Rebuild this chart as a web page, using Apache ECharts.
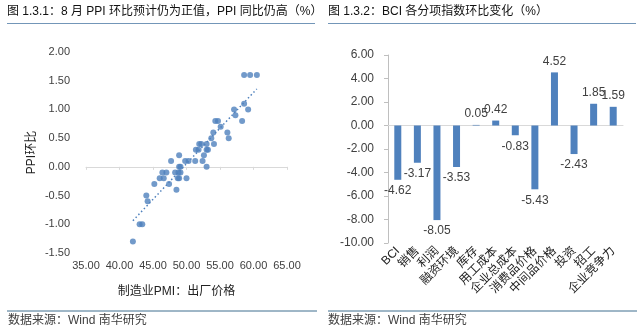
<!DOCTYPE html>
<html>
<head>
<meta charset="utf-8">
<script src="https://cdn.jsdelivr.net/npm/echarts@6/dist/echarts.min.js"></script>
<style>
html,body{margin:0;padding:0;background:#fff;}
#chart{width:640px;height:332px;}
</style>
</head>
<body>
<div id="chart"></div>
<script>
// ---- Left chart: scatter PMI output price vs PPI m/m ----
const pmiOutputPrice = [42.0, 43.0, 43.4, 44.0, 44.2, 45.2, 46.0, 46.6, 46.4, 47.0, 47.4, 47.7, 48.3, 48.8, 49.1, 48.5, 48.7, 48.9, 48.9, 48.9, 49.1, 49.8, 50.3, 50.0, 51.3, 51.4, 51.8, 51.9, 52.2, 52.4, 52.6, 53.0, 53.0, 53.2, 53.0, 53.7, 54.0, 54.1, 54.3, 54.7, 55.1, 56.1, 56.3, 57.1, 57.3, 58.3, 58.6, 59.2, 58.6, 59.5, 60.5];
const ppiMoM = [-1.3, -1.0, -1.0, -0.5, -0.6, -0.3, -0.2, -0.2, -0.1, -0.1, -0.3, 0.1, -0.1, -0.1, -0.1, -0.4, -0.2, -0.2, 0.2, 0.0, 0.0, 0.1, 0.1, -0.2, 0.1, 0.3, 0.3, 0.4, 0.4, 0.1, 0.2, 0.4, 0.3, 0.3, 0.0, 0.5, 0.6, 0.4, 0.8, 0.8, 0.7, 0.6, 0.5, 1.0, 0.9, 0.8, 1.1, 1.0, 1.6, 1.6, 1.6];
const leftXTicks = { min: 35, max: 65, interval: 5 };
const leftYTicks = { min: -1.5, max: 2, interval: 0.5 };

// ---- Right chart: BCI sub-index m/m change ----
const bciCategories = ['BCI', '销售', '利润', '融资环境', '库存', '用工成本', '企业总成本', '消费品价格', '中间品价格', '投资', '招工', '企业竞争力'];
const bciChange = [-4.62, -3.17, -8.05, -3.53, 0.05, 0.42, -0.83, -5.43, 4.52, -2.43, 1.85, 1.59];
const rightYTicks = { min: -10, max: 6, interval: 2 };

const FONT = "'Liberation Sans','Noto Sans CJK SC',sans-serif";
const BLUE = '#4f81bd';

// least-squares trend line from the scatter data
function trend(xs, ys) {
  const n = xs.length;
  let sx = 0, sy = 0, sxx = 0, sxy = 0;
  for (let i = 0; i < n; i++) { sx += xs[i]; sy += ys[i]; sxx += xs[i] * xs[i]; sxy += xs[i] * ys[i]; }
  const b = (n * sxy - sx * sy) / (n * sxx - sx * sx);
  const a = (sy - b * sx) / n;
  const x0 = Math.min(...xs), x1 = Math.max(...xs);
  return [[x0, a + b * x0], [x1, a + b * x1]];
}

const scatterData = pmiOutputPrice.map((x, i) => [x, ppiMoM[i]]);
const barData = bciChange.map(v => ({ value: v, label: { position: v < 0 ? 'bottom' : 'top' } }));
const fmt2 = v => Number(v).toFixed(2);

const chart = echarts.init(document.getElementById('chart'), null, { renderer: 'canvas' });
chart.setOption({
  animation: false,
  textStyle: { fontFamily: FONT },
  title: [
    { text: '图 1.3.1：8 月 PPI 环比预计仍为正值，PPI 同比仍高（%）', left: 7, top: 6, padding: 0,
      textStyle: { fontSize: 12, fontWeight: 'normal', color: '#111', fontFamily: FONT } },
    { text: '图 1.3.2：BCI 各分项指数环比变化（%）', left: 328, top: 6, padding: 0,
      textStyle: { fontSize: 12, fontWeight: 'normal', color: '#111', fontFamily: FONT } },
    { text: '数据来源：Wind 南华研究', left: 8, top: 315, padding: 0,
      textStyle: { fontSize: 12, fontWeight: 'normal', color: '#404040', fontFamily: FONT } },
    { text: '数据来源：Wind 南华研究', left: 328, top: 315, padding: 0,
      textStyle: { fontSize: 12, fontWeight: 'normal', color: '#404040', fontFamily: FONT } }
  ],
  graphic: [
    { type: 'line', shape: { x1: 7, y1: 23.5, x2: 315, y2: 23.5 }, style: { stroke: '#7396b8', lineWidth: 1 } },
    { type: 'line', shape: { x1: 328, y1: 23.5, x2: 636, y2: 23.5 }, style: { stroke: '#7396b8', lineWidth: 1 } },
    { type: 'line', shape: { x1: 7, y1: 311, x2: 317, y2: 311 }, style: { stroke: '#3f6f8f', lineWidth: 1 } },
    { type: 'line', shape: { x1: 328, y1: 311, x2: 637, y2: 311 }, style: { stroke: '#3f6f8f', lineWidth: 1 } }
  ],
  grid: [
    { left: 86, top: 52, width: 201, height: 201 },
    { left: 388, top: 55, width: 235, height: 188 }
  ],
  xAxis: [
    { type: 'value', gridIndex: 0, position: 'bottom', min: leftXTicks.min, max: leftXTicks.max, interval: leftXTicks.interval,
      axisLine: { show: false, onZero: false }, axisTick: { show: false }, splitLine: { show: false },
      axisLabel: { formatter: fmt2, fontSize: 11, color: '#404040', margin: 7 },
      name: '制造业PMI：出厂价格', nameLocation: 'middle', nameGap: 33,
      nameTextStyle: { fontSize: 12, color: '#222', padding: [0, 20, 0, 0] } },
    { type: 'value', gridIndex: 0, position: 'bottom', min: leftXTicks.min, max: leftXTicks.max, interval: leftXTicks.interval,
      axisLine: { show: true, onZero: true, lineStyle: { color: '#d9d9d9', width: 1 } },
      axisTick: { show: true, length: 3, lineStyle: { color: '#d9d9d9' } },
      axisLabel: { show: false }, splitLine: { show: false } },
    { type: 'category', gridIndex: 1, position: 'bottom', data: bciCategories,
      axisLine: { show: false, onZero: false }, axisTick: { show: false }, splitLine: { show: false },
      axisLabel: { interval: 0, rotate: 45, fontSize: 12, color: '#222', margin: 6 } },
    { type: 'category', gridIndex: 1, position: 'bottom', data: bciCategories,
      axisLine: { show: true, onZero: true, lineStyle: { color: '#d9d9d9', width: 1 } },
      axisTick: { show: false }, axisLabel: { show: false }, splitLine: { show: false } }
  ],
  yAxis: [
    { type: 'value', gridIndex: 0, min: leftYTicks.min, max: leftYTicks.max, interval: leftYTicks.interval,
      axisLine: { show: false }, axisTick: { show: false }, splitLine: { show: false },
      axisLabel: { formatter: fmt2, fontSize: 11, color: '#404040', margin: 16 },
      name: 'PPI环比', nameLocation: 'middle', nameGap: 48, nameRotate: 90,
      nameTextStyle: { fontSize: 12, color: '#222' } },
    { type: 'value', gridIndex: 1, min: rightYTicks.min, max: rightYTicks.max, interval: rightYTicks.interval,
      axisLine: { show: true, lineStyle: { color: '#bfbfbf' } },
      axisTick: { show: true, length: 4, lineStyle: { color: '#bfbfbf' } },
      splitLine: { show: false },
      axisLabel: { formatter: fmt2, fontSize: 12, color: '#404040', margin: 14 } }
  ],
  series: [
    { type: 'scatter', xAxisIndex: 0, yAxisIndex: 0, data: scatterData, symbolSize: 6,
      itemStyle: { color: BLUE } },
    { type: 'line', xAxisIndex: 0, yAxisIndex: 0, data: trend(pmiOutputPrice, ppiMoM), symbol: 'none',
      lineStyle: { color: BLUE, width: 1.5, type: [1.5, 2.5] } },
    { type: 'bar', xAxisIndex: 2, yAxisIndex: 1, data: barData, barWidth: 7,
      itemStyle: { color: BLUE },
      label: { show: true, formatter: p => fmt2(p.value), fontSize: 12, color: '#404040', distance: 5 } }
  ]
});
</script>
</body>
</html>
